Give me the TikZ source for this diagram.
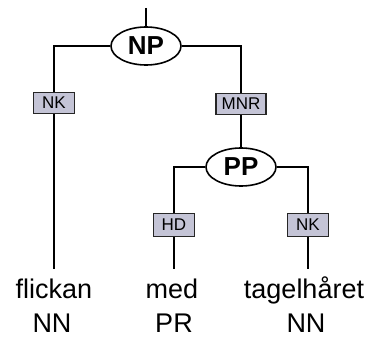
\documentclass[tikz,border=0pt]{standalone}
\usepackage{fontspec}
\setmainfont{Liberation Sans}
\usetikzlibrary{shapes.geometric}
\definecolor{tagfill}{RGB}{196,196,214}
\tikzset{
  phrase/.style={ellipse, draw=black, line width=1.6pt, fill=white,
    minimum width=70pt, minimum height=38pt, inner sep=0pt,
    font=\fontsize{26}{26}\selectfont\bfseries},
  edgelabel/.style={rectangle, draw=black!85, line width=1.3pt, fill=tagfill,
    minimum width=41pt, minimum height=21pt, inner sep=2pt,
    font=\fontsize{17}{17}\selectfont},
  word/.style={anchor=base, inner xsep=0pt, inner ysep=9pt,
    text height=20pt, text depth=6pt,
    font=\fontsize{27}{27}\selectfont},
  postag/.style={anchor=base, inner sep=0pt, font=\fontsize{27}{27}\selectfont},
  branch/.style={line width=1.6pt, draw=black}
}
\begin{document}
\begin{tikzpicture}[x=1pt, y=-1pt]
  \useasboundingbox (0,0) rectangle (372,345);

  % phrase nodes
  \coordinate (top) at (146,8);
  \node[phrase] (np) at (146,46) {NP};
  \node[phrase] (pp) at (241,167) {PP};

  % function labels on the branches
  \node[edgelabel] (nkA) at (54,103) {NK};
  \node[edgelabel, minimum width=50pt] (mnr) at (241,104) {MNR};
  \node[edgelabel, minimum height=23pt] (hd) at (174,225) {HD};
  \node[edgelabel, minimum height=23pt] (nkB) at (308,225) {NK};

  % words and their tags
  \node[word] (w1) at (54,298) {flickan};
  \node[word] (w2) at (172,298) {med};
  \node[word] (w3) at (304,298) {tagelhåret};
  \node[postag] (t1) at (52,332) {NN};
  \node[postag] (t2) at (174,332) {PR};
  \node[postag] (t3) at (306,332) {NN};

  % branches
  \draw[branch] (top) -- (np.north);
  \draw[branch] (np.west) -- (nkA.north |- np.west) -- (nkA.north);
  \draw[branch] (nkA.south) -- (nkA.south |- w1.north);
  \draw[branch] (np.east) -- (mnr.north |- np.east) -- (mnr.north);
  \draw[branch] (mnr.south) -- (pp.north);
  \draw[branch] (pp.west) -- (hd.north |- pp.west) -- (hd.north);
  \draw[branch] (hd.south) -- (hd.south |- w2.north);
  \draw[branch] (pp.east) -- (nkB.north |- pp.east) -- (nkB.north);
  \draw[branch] (nkB.south) -- (nkB.south |- w3.north);
\end{tikzpicture}
\end{document}
